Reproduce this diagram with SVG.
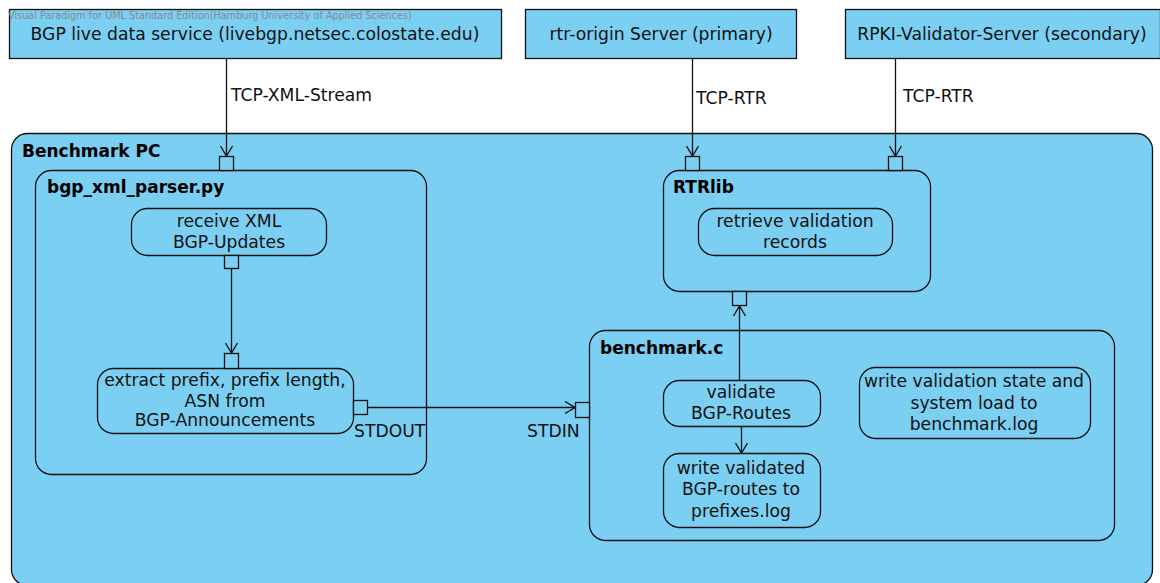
<svg xmlns="http://www.w3.org/2000/svg" width="1160" height="583" viewBox="0 0 1160 583">
  <defs>
    <style>
      .box { fill: #7acff3; stroke: #111; stroke-width: 1.3; }
      .port { fill: #7acff3; stroke: #111; stroke-width: 1.3; }
      .txt { font-family: "DejaVu Sans", "Liberation Sans", sans-serif; font-size: 17.2px; fill: #111; }
      .mid { text-anchor: middle; }
      .title { font-family: "DejaVu Sans", "Liberation Sans", sans-serif; font-size: 17px; font-weight: bold; fill: #000; }
      .mark { font-family: "DejaVu Sans", "Liberation Sans", sans-serif; font-size: 9.7px; fill: #8a8a8a; }
      .flow { fill: none; stroke: #111; stroke-width: 1.3; }
    </style>
    <marker id="open" viewBox="0 0 12 14" refX="11" refY="7" markerWidth="12" markerHeight="14" markerUnits="userSpaceOnUse" orient="auto">
      <path d="M1,1 L11,7 L1,13" fill="none" stroke="#111" stroke-width="1.3"/>
    </marker>
  </defs>

  <rect width="1160" height="583" fill="#ffffff"/>

  <!-- external services -->
  <g id="bgp-live">
    <rect class="box" x="9.5" y="9.5" width="492" height="49"/>
    <text class="txt mid" x="255" y="39.5">BGP live data service (livebgp.netsec.colostate.edu)</text>
  </g>
  <g id="rtr-origin">
    <rect class="box" x="525.5" y="9.5" width="271" height="49"/>
    <text class="txt mid" x="661" y="39.5">rtr-origin Server (primary)</text>
  </g>
  <g id="rpki-validator">
    <rect class="box" x="845.5" y="9.5" width="315" height="49"/>
    <text class="txt mid" x="1002" y="39.5">RPKI-Validator-Server (secondary)</text>
  </g>

  <text class="mark" x="8" y="19">Visual Paradigm for UML Standard Edition(Hamburg University of Applied Sciences)</text>

  <!-- host machine -->
  <g id="benchmark-pc">
    <rect class="box" x="11.5" y="133.5" width="1141" height="452" rx="16" ry="16"/>
    <text class="title" x="22" y="157">Benchmark PC</text>
  </g>

  <!-- python parser component -->
  <g id="bgp-xml-parser">
    <rect class="box" x="35.5" y="170.5" width="391" height="304" rx="16" ry="16"/>
    <text class="title" x="47" y="193">bgp_xml_parser.py</text>
    <rect class="port" x="219.5" y="156.5" width="14" height="14"/>
  </g>
  <g id="receive-xml">
    <rect class="box" x="131.5" y="208.5" width="195" height="47" rx="16" ry="16"/>
    <text class="txt mid" x="229" y="227">receive XML</text>
    <text class="txt mid" x="229" y="248">BGP-Updates</text>
    <rect class="port" x="224.5" y="255.5" width="14" height="13"/>
  </g>
  <g id="extract-prefix">
    <rect class="box" x="97.5" y="368.5" width="256" height="65" rx="16" ry="16"/>
    <text class="txt mid" x="225" y="386">extract prefix, prefix length,</text>
    <text class="txt mid" x="225" y="407">ASN from</text>
    <text class="txt mid" x="225" y="426">BGP-Announcements</text>
    <rect class="port" x="224.5" y="353.5" width="14" height="15"/>
    <rect class="port" x="353.5" y="400.5" width="14" height="14"/>
    <text class="txt" x="354" y="437">STDOUT</text>
  </g>

  <!-- RTR library component -->
  <g id="rtrlib">
    <rect class="box" x="663.5" y="170.5" width="267" height="121" rx="16" ry="16"/>
    <text class="title" x="673" y="193">RTRlib</text>
    <rect class="port" x="685.5" y="156.5" width="14" height="14"/>
    <rect class="port" x="888.5" y="156.5" width="14" height="14"/>
    <rect class="port" x="732.5" y="291.5" width="14" height="14"/>
  </g>
  <g id="retrieve-records">
    <rect class="box" x="698.5" y="208.5" width="194" height="47" rx="16" ry="16"/>
    <text class="txt mid" x="795" y="227">retrieve validation</text>
    <text class="txt mid" x="795" y="248">records</text>
  </g>

  <!-- benchmark program component -->
  <g id="benchmark-c">
    <rect class="box" x="589.5" y="330.5" width="525" height="210" rx="16" ry="16"/>
    <text class="title" x="600" y="354">benchmark.c</text>
    <rect class="port" x="575.5" y="402.5" width="14" height="15"/>
    <text class="txt" x="527" y="437">STDIN</text>
  </g>
  <g id="validate-routes">
    <rect class="box" x="663.5" y="380.5" width="157" height="46" rx="16" ry="16"/>
    <text class="txt mid" x="741" y="398">validate</text>
    <text class="txt mid" x="741" y="419">BGP-Routes</text>
  </g>
  <g id="write-prefixes">
    <rect class="box" x="663.5" y="453.5" width="157" height="74" rx="16" ry="16"/>
    <text class="txt mid" x="741" y="474">write validated</text>
    <text class="txt mid" x="741" y="495">BGP-routes to</text>
    <text class="txt mid" x="741" y="517">prefixes.log</text>
  </g>
  <g id="write-benchmark-log">
    <rect class="box" x="859.5" y="367.5" width="231" height="71" rx="16" ry="16"/>
    <text class="txt mid" x="974" y="387">write validation state and</text>
    <text class="txt mid" x="974" y="409">system load to</text>
    <text class="txt mid" x="974" y="430">benchmark.log</text>
  </g>

  <!-- connectors -->
  <g id="connectors">
    <path class="flow" d="M226.5,59 V156" marker-end="url(#open)"/>
    <text class="txt" x="231" y="101">TCP-XML-Stream</text>
    <path class="flow" d="M692.5,59 V156" marker-end="url(#open)"/>
    <text class="txt" x="696" y="104">TCP-RTR</text>
    <path class="flow" d="M895.5,59 V156" marker-end="url(#open)"/>
    <text class="txt" x="903" y="102">TCP-RTR</text>
    <path class="flow" d="M231.5,268 V353" marker-end="url(#open)"/>
    <path class="flow" d="M367.5,407.5 H575" marker-end="url(#open)"/>
    <path class="flow" d="M739.5,380 V306" marker-end="url(#open)"/>
    <path class="flow" d="M741.5,427 V453" marker-end="url(#open)"/>
  </g>
</svg>
